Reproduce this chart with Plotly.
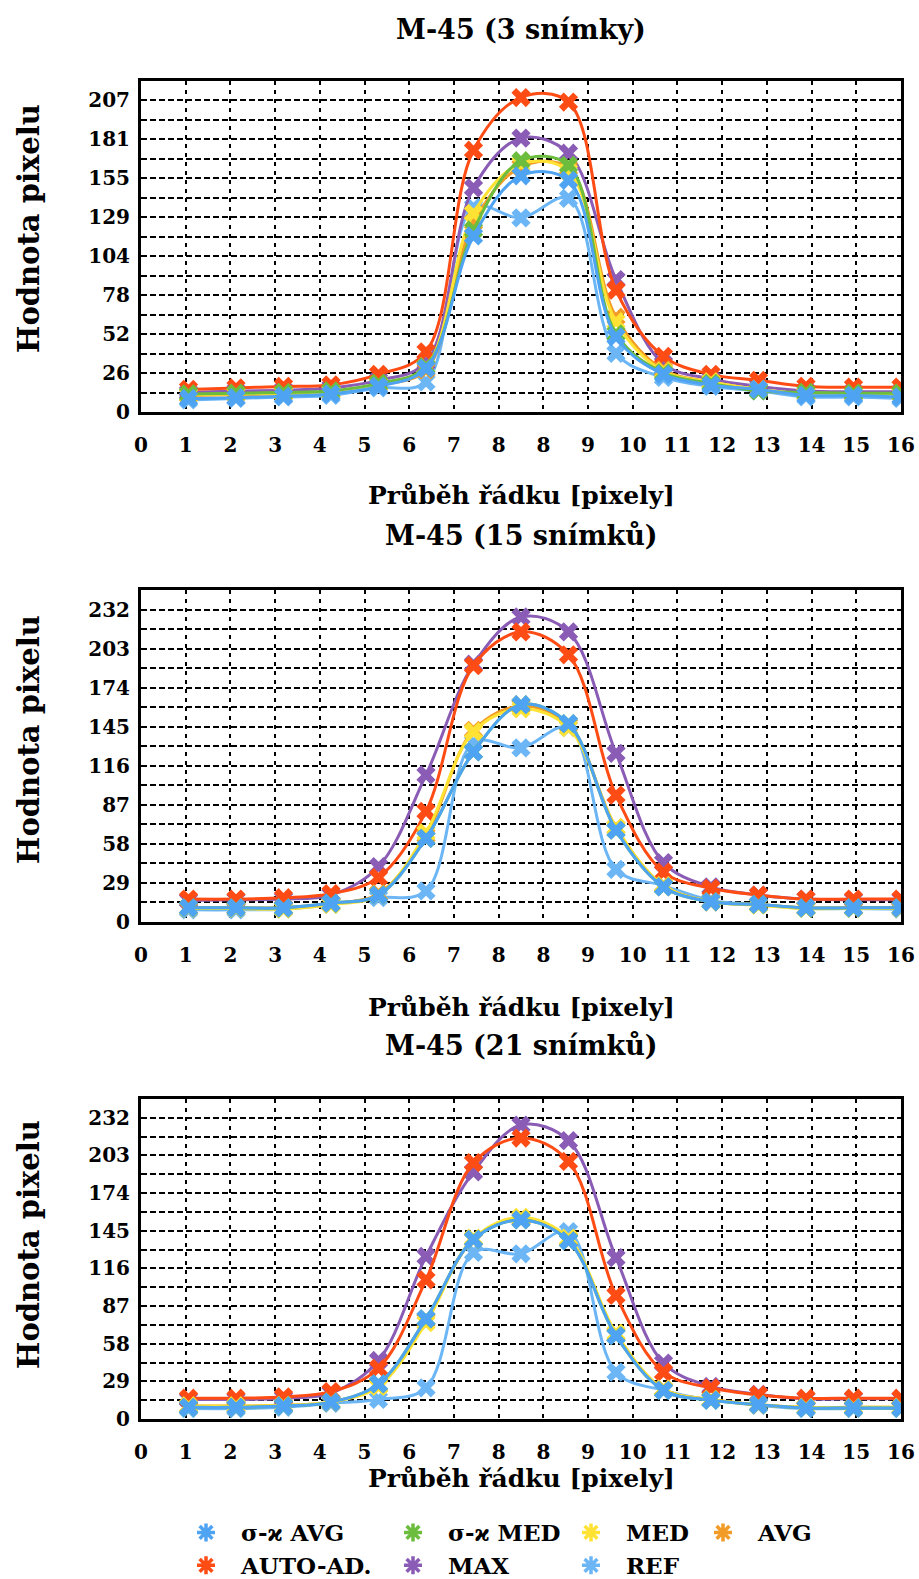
import plotly.graph_objects as go

W, H = 919, 1579

# ---------------- data ----------------
x_points = list(range(1, 17))
x_max = 16
x_tick_labels = ["0", "1", "2", "3", "4", "5", "6", "7", "8", "8", "9",
                 "10", "11", "12", "13", "14", "15", "16"]

chart_titles = ["M-45 (3 snímky)", "M-45 (15 snímků)", "M-45 (21 snímků)"]
x_title = "Průběh řádku [pixely]"
y_title = "Hodnota pixelu"

series_names = ["σ-ϰ AVG", "σ-ϰ MED", "MED", "AVG", "AUTO-AD.", "MAX", "REF"]
series_colors = ["#4ea4f2", "#6cbd3e", "#ffe233", "#f29b26", "#ff4c14", "#8a5cb6", "#6cb6f6"]

# chart 1 (3 snímky)
c1_y_max = 220
c1_y_tick_labels = ["0", "26", "52", "78", "104", "129", "155", "181", "207"]
c1_sk_avg = [9, 9.5, 10.5, 12, 17, 29, 117, 157, 154, 50, 25, 18, 15, 11, 11, 10]
c1_sk_med = [12, 12.5, 13, 14, 19, 30, 121, 167, 164, 52, 26, 19, 14, 13, 12.5, 12.5]
c1_med = [11.5, 12, 12.5, 13.5, 18.5, 30, 132, 165, 160, 60, 27, 20, 15, 12, 12, 12]
c1_avg = [11, 11.5, 12, 13, 18, 28, 126, 163, 162, 63, 28, 20, 15, 12, 12, 12]
c1_auto = [15, 16, 17, 18, 25, 40, 174, 209, 206, 81, 37, 25, 21, 17, 16.5, 16.5]
c1_max = [13, 14, 14.5, 16, 21, 33, 149, 182, 172, 88, 32, 22, 17, 14, 13.5, 13.5]
c1_ref = [8, 9, 10, 11, 16, 20, 136, 129, 142, 39, 23, 17, 14, 10, 10, 9]

# chart 2 (15 snímků)
c2_y_max = 246
c2_y_tick_labels = ["0", "29", "58", "87", "116", "145", "174", "203", "232"]
c2_sk_avg = [10.5, 10.5, 10.5, 14, 20, 62, 126, 161, 147, 68, 26, 15, 13, 10.5, 10.5, 10.5]
c2_sk_med = [10.5, 10.5, 10.5, 14, 20, 62, 126, 161, 147, 68, 26, 15, 13, 10.5, 10.5, 10.5]
c2_med = [10, 10, 9.5, 13, 20, 66, 141, 158, 144, 70, 27, 15, 12.5, 10, 10, 10]
c2_avg = [10.5, 10.5, 10.5, 13.5, 21, 64, 142, 160, 146, 70, 27, 15, 13, 10.5, 10.5, 10.5]
c2_auto = [17, 17, 18, 21, 33, 82, 190, 215, 198, 94, 37, 25, 20, 17, 17, 17]
c2_max = [16, 16.5, 17, 20, 41, 109, 191, 226, 215, 125, 44, 26, 20, 17, 16.5, 16.5]
c2_ref = [9, 9, 9.5, 13, 18, 23, 133, 129, 144, 39, 27, 16, 13, 10, 10, 9.5]

# chart 3 (21 snímků)
c3_y_max = 246
c3_y_tick_labels = ["0", "29", "58", "87", "116", "145", "174", "203", "232"]
c3_sk_avg = [9, 9, 10, 13, 27, 77, 138, 153, 137, 64, 22, 14.5, 11, 8.5, 8.5, 8.5]
c3_sk_med = [9, 9, 10, 13, 27, 77, 138, 153, 137, 64, 22, 14.5, 11, 8.5, 8.5, 8.5]
c3_med = [10, 10, 10.5, 13, 25, 74, 139, 155, 139, 66, 23, 15, 11, 9, 9, 9]
c3_avg = [10, 10, 10.5, 13, 26, 76, 138, 154, 138, 65, 23, 15, 11, 9, 9, 9]
c3_auto = [16, 16, 17, 21, 39, 107, 197, 216, 198, 95, 36, 24, 18.5, 16, 16, 16]
c3_max = [15, 15, 16, 20, 45, 125, 190, 226, 214, 124, 43, 25, 19, 15.5, 15.5, 15.5]
c3_ref = [8, 8, 9, 12, 15, 24, 128, 127, 144, 36, 22, 14.5, 10.5, 8, 8, 8]

charts = [
    dict(y_max=c1_y_max, labels=c1_y_tick_labels,
         series=[c1_sk_avg, c1_sk_med, c1_med, c1_avg, c1_auto, c1_max, c1_ref]),
    dict(y_max=c2_y_max, labels=c2_y_tick_labels,
         series=[c2_sk_avg, c2_sk_med, c2_med, c2_avg, c2_auto, c2_max, c2_ref]),
    dict(y_max=c3_y_max, labels=c3_y_tick_labels,
         series=[c3_sk_avg, c3_sk_med, c3_med, c3_avg, c3_auto, c3_max, c3_ref]),
]

# ---------------- layout geometry (pixels) ----------------
FONT = "DejaVu Serif"
PX_L, PX_R = 141, 901
plot_boxes = [(81, 412), (590, 922), (1099, 1419)]
title_y = [30, 536, 1045]
xtitle_y = [496, 1007, 1478]
ytitle_y = [229, 740, 1245]
YTITLE_X = 29
N_DIV = 17


def px(xp):
    return xp / W


def py(yp):
    return 1 - yp / H


fig = go.Figure()
layout = dict(
    width=W, height=H, autosize=False,
    margin=dict(l=0, r=0, t=0, b=0, autoexpand=False),
    paper_bgcolor="white", plot_bgcolor="white",
    font=dict(family=FONT, color="black", weight="bold"),
    annotations=[],
)

grid_common = dict(gridcolor="black", gridwidth=2)

for i, ch in enumerate(charts):
    n = "" if i == 0 else str(i + 1)
    xa, ya = "x" + n, "y" + n
    top, bot = plot_boxes[i]
    x_ticks = [x_max * k / N_DIV for k in range(N_DIV + 1)]
    y_step = ch["y_max"] / N_DIV
    y_major = [y_step * 2 * k for k in range(len(ch["labels"]))]
    y_minor = [y_step * (2 * k + 1) for k in range(len(ch["labels"]))]

    layout["xaxis" + n] = dict(
        domain=[px(PX_L), px(PX_R)], anchor=ya, range=[0, x_max],
        tickmode="array", tickvals=x_ticks, ticktext=x_tick_labels,
        showgrid=True, griddash="4px,5px", **grid_common,
        zeroline=False, showline=True, mirror=True, linecolor="black", linewidth=3,
        ticks="", ticklabelstandoff=13,
        tickfont=dict(family=FONT, size=20, color="black", weight="bold"),
    )
    layout["yaxis" + n] = dict(
        domain=[py(bot), py(top)], anchor=xa, range=[0, ch["y_max"]],
        tickmode="array", tickvals=y_major, ticktext=ch["labels"],
        showgrid=True, griddash="6px,3px", **grid_common,
        minor=dict(tickmode="array", tickvals=y_minor, showgrid=True,
                   griddash="6px,3px", gridcolor="black", gridwidth=2, ticks=""),
        zeroline=False, showline=True, mirror=True, linecolor="black", linewidth=3,
        ticks="", ticklabelstandoff=4,
        tickfont=dict(family=FONT, size=20, color="black", weight="bold"),
    )

    # draw in reverse order so σ-ϰ AVG ends on top
    for name, color, vals in reversed(list(zip(series_names, series_colors, ch["series"]))):
        fig.add_trace(go.Scatter(
            x=x_points, y=vals, name=name, xaxis=xa, yaxis=ya,
            mode="lines+markers", showlegend=False,
            line=dict(color=color, width=3, shape="spline", smoothing=1.0),
            marker=dict(symbol="x", size=17, color=color, line=dict(width=0)),
        ))

    cx = (PX_L + PX_R) / 2
    layout["annotations"] += [
        dict(text=chart_titles[i], x=px(cx), y=py(title_y[i]), xref="paper", yref="paper",
             showarrow=False, xanchor="center", yanchor="middle",
             font=dict(family=FONT, size=27, color="black", weight="bold")),
        dict(text=x_title, x=px(cx), y=py(xtitle_y[i]), xref="paper", yref="paper",
             showarrow=False, xanchor="center", yanchor="middle",
             font=dict(family=FONT, size=25, color="black", weight="bold")),
        dict(text=y_title, x=px(YTITLE_X), y=py(ytitle_y[i]), xref="paper", yref="paper",
             showarrow=False, xanchor="center", yanchor="middle", textangle=-90,
             font=dict(family=FONT, size=29, color="black", weight="bold")),
    ]

# ---------------- legend (4 columns) ----------------
legend_cols = [["σ-ϰ AVG", "AUTO-AD."], ["σ-ϰ MED", "MAX"], ["MED", "REF"], ["AVG"]]
legend_col_x = [171, 378, 556, 688]
LEG_TOP = 1511
for c, names in enumerate(legend_cols):
    lid = "legend" if c == 0 else "legend" + str(c + 1)
    layout[lid] = dict(
        x=px(legend_col_x[c]), y=py(LEG_TOP), xanchor="left", yanchor="top",
        orientation="v", bgcolor="rgba(0,0,0,0)", borderwidth=0,
        font=dict(family=FONT, size=23, color="black", weight="bold"),
        tracegroupgap=0, itemwidth=60,
    )
    for nm in names:
        col = series_colors[series_names.index(nm)]
        fig.add_trace(go.Scatter(
            x=[None], y=[None], name=nm, mode="markers", legend=lid,
            marker=dict(symbol="asterisk-open", size=15, color=col,
                        line=dict(color=col, width=3.5)),
        ))

fig.update_layout(**layout)
fig.write_html("out.html", config={"displayModeBar": False},
               post_script="document.body.style.margin='0';document.body.style.overflow='hidden';")
